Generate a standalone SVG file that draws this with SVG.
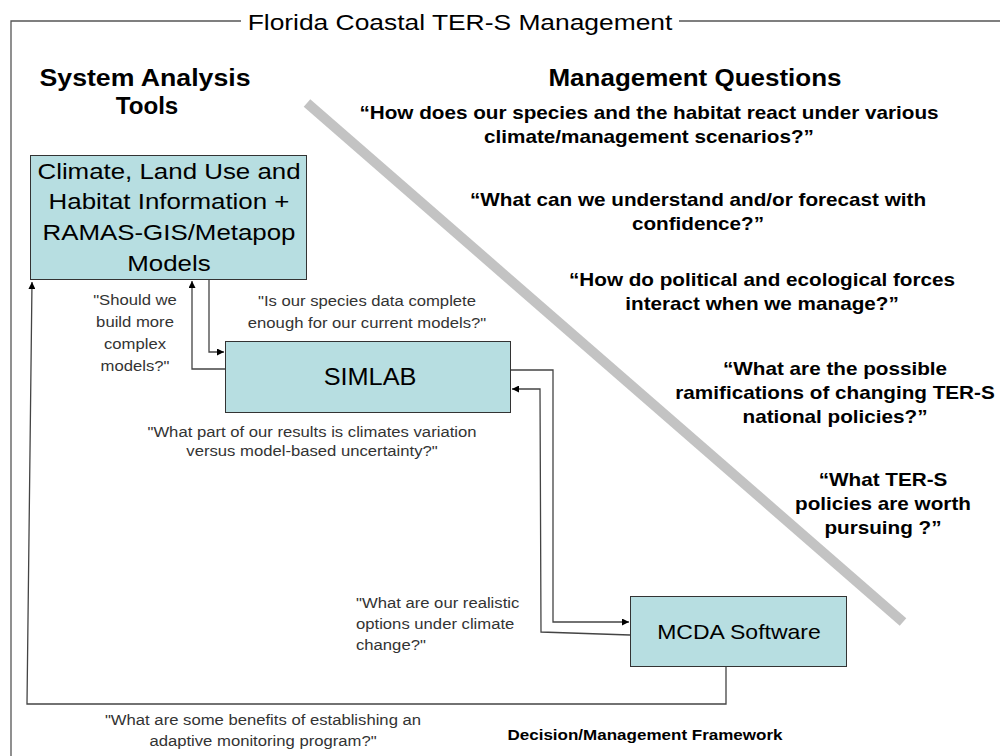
<svg xmlns="http://www.w3.org/2000/svg" width="1000" height="756" viewBox="0 0 1000 756">
<style>
text{font-family:"Liberation Sans",Arial,sans-serif;fill:#000}
.title{font-size:22px}
.head{font-size:23px;font-weight:bold}
.q{font-size:18px;font-weight:bold}
.box{fill:#b7dee1;stroke:#333;stroke-width:1}
.big{font-size:22.5px}
.lab{font-size:14.5px;fill:#333}
.conn{fill:none;stroke:#444;stroke-width:1.3}
.frame{fill:none;stroke:#555;stroke-width:1.3}
</style>
<defs>
<marker id="ah" viewBox="0 0 10 10" refX="10" refY="5" markerWidth="9" markerHeight="7" markerUnits="userSpaceOnUse" orient="auto">
<path d="M0,0 L10,5 L0,10 z" fill="#000"/>
</marker>
</defs>
<rect width="1000" height="756" fill="#fff"/>
<g id="frame">
<path class="frame" d="M241,21 H11 V756 M679,21 H1000"/>
<text class="title" text-anchor="middle" transform="translate(460 0) scale(1.2 1)" x="0" y="30">Florida Coastal TER-S Management</text>
</g>
<line id="divider" x1="307" y1="103" x2="903" y2="622" stroke="#c3c3c3" stroke-width="10"/>
<g id="headings">
<text class="head" text-anchor="middle" transform="translate(145 0) scale(1.16 1)" x="0" y="86">System Analysis</text>
<text class="head" text-anchor="middle" transform="translate(147 0) scale(1.05 1)" x="0" y="114">Tools</text>
<text class="head" text-anchor="middle" transform="translate(695 0) scale(1.13 1)" x="0" y="86">Management Questions</text>
</g>
<g id="questions">
<text class="q" text-anchor="middle" transform="translate(649 0) scale(1.15 1)"><tspan x="0" y="119">“How does our species and the habitat react under various</tspan><tspan x="0" y="143">climate/management scenarios?”</tspan></text>
<text class="q" text-anchor="middle" transform="translate(698 0) scale(1.15 1)"><tspan x="0" y="206">“What can we understand and/or forecast with</tspan><tspan x="0" y="230">confidence?”</tspan></text>
<text class="q" text-anchor="middle" transform="translate(762 0) scale(1.15 1)"><tspan x="0" y="286">“How do political and ecological forces</tspan><tspan x="0" y="310">interact when we manage?”</tspan></text>
<text class="q" text-anchor="middle" transform="translate(835 0) scale(1.15 1)"><tspan x="0" y="375">“What are the possible</tspan><tspan x="0" y="399">ramifications of changing TER-S</tspan><tspan x="0" y="423">national policies?”</tspan></text>
<text class="q" text-anchor="middle" transform="translate(883 0) scale(1.15 1)"><tspan x="0" y="486">“What TER-S</tspan><tspan x="0" y="510">policies are worth</tspan><tspan x="0" y="534">pursuing ?”</tspan></text>
</g>
<g id="connectors">
<polyline class="conn" points="726,667 726,704 27,704 32,282" marker-end="url(#ah)"/>
<polyline class="conn" points="209,280 209,352 224,352" marker-end="url(#ah)"/>
<polyline class="conn" points="225,369 192,369 192,281" marker-end="url(#ah)"/>
<polyline class="conn" points="511,370 553,370 553,622 629,622" marker-end="url(#ah)"/>
<polyline class="conn" points="630,635 541,632 540,389 512,389" marker-end="url(#ah)"/>
</g>
<g id="climate">
<rect class="box" x="30.5" y="155.5" width="276" height="124"/>
<text class="big" text-anchor="middle" transform="translate(169 0) scale(1.15 1)"><tspan x="0" y="179">Climate, Land Use and</tspan><tspan x="0" y="209">Habitat Information +</tspan><tspan x="0" y="240">RAMAS-GIS/Metapop</tspan><tspan x="0" y="271">Models</tspan></text>
</g>
<g id="simlab">
<rect class="box" x="225.5" y="341.5" width="285" height="71"/>
<text text-anchor="middle" style="font-size:23px" transform="translate(370 0) scale(1.1 1)" x="0" y="385">SIMLAB</text>
</g>
<g id="mcda">
<rect class="box" x="630.5" y="596.5" width="216" height="70"/>
<text text-anchor="middle" style="font-size:20px" transform="translate(739 0) scale(1.15 1)" x="0" y="639">MCDA Software</text>
</g>
<g id="labels">
<text class="lab" text-anchor="middle" transform="translate(135 0) scale(1.15 1)"><tspan x="0" y="305">"Should we</tspan><tspan x="0" y="327">build more</tspan><tspan x="0" y="349">complex</tspan><tspan x="0" y="371">models?"</tspan></text>
<text class="lab" text-anchor="middle" transform="translate(367 0) scale(1.15 1)"><tspan x="0" y="306">"Is our species data complete</tspan><tspan x="0" y="328">enough for our current models?"</tspan></text>
<text class="lab" text-anchor="middle" transform="translate(312 0) scale(1.15 1)"><tspan x="0" y="437">"What part of our results is climates variation</tspan><tspan x="0" y="456">versus model-based uncertainty?"</tspan></text>
<text class="lab" text-anchor="start" transform="translate(356 0) scale(1.15 1)"><tspan x="0" y="608">"What are our realistic</tspan><tspan x="0" y="629">options under climate</tspan><tspan x="0" y="650">change?"</tspan></text>
<text class="lab" text-anchor="middle" transform="translate(263 0) scale(1.15 1)"><tspan x="0" y="725">"What are some benefits of establishing an</tspan><tspan x="0" y="746">adaptive monitoring program?"</tspan></text>
</g>
<g id="framework">
<text text-anchor="middle" style="font-size:14.8px;font-weight:bold" transform="translate(645 0) scale(1.15 1)" x="0" y="740">Decision/Management Framework</text>
</g>
</svg>
